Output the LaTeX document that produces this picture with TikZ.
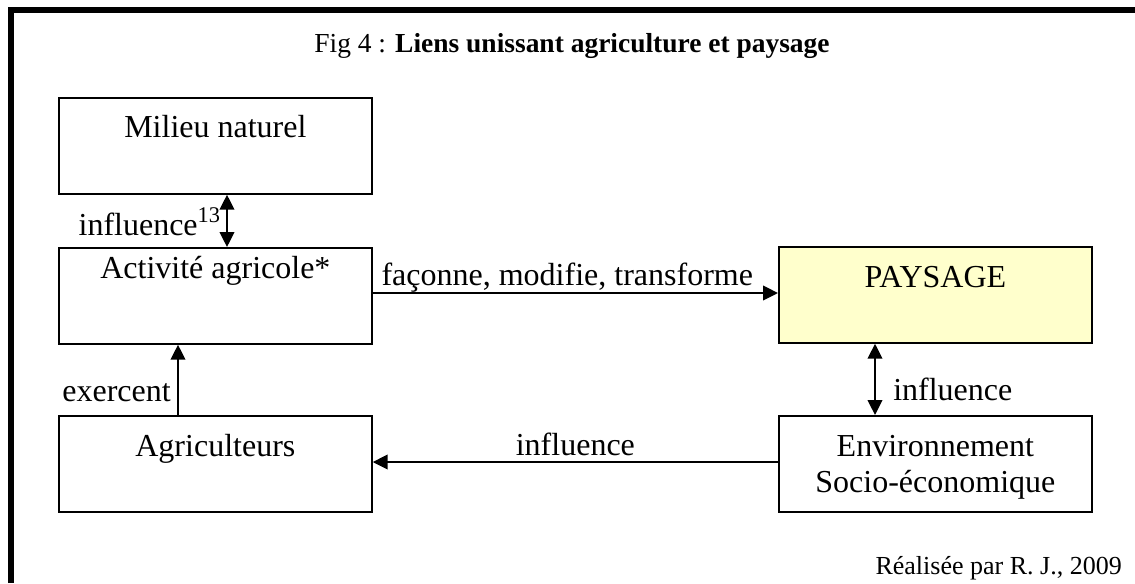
\documentclass[tikz,border=0pt]{standalone}
\usepackage{fontspec}
\setmainfont{Liberation Serif}
\usetikzlibrary{arrows.meta}
\definecolor{jaunepaysage}{HTML}{FFFFCC}
\newcommand{\policegrande}{\fontsize{24}{27.6}\selectfont}
\newcommand{\policetitre}{\fontsize{20.6}{24}\selectfont}
\newcommand{\policepetite}{\fontsize{19.5}{22}\selectfont}
\tikzset{
  boite/.style={draw, line width=1.3pt, anchor=north west, minimum width=234.75pt,
    minimum height=72pt, inner sep=0pt, align=center},
  fleche/.style={line width=1.2pt, -{Triangle[length=11.25pt,width=11pt]}},
  flechedouble/.style={line width=1.2pt, {Triangle[length=11.25pt,width=11pt]}-{Triangle[length=11.25pt,width=11pt]}},
  cadre/.style={line width=4.5pt}
}

\begin{document}
\begin{tikzpicture}[x=0.75pt, y=-0.75pt, every node/.style={font=\policegrande}]
\useasboundingbox (0,0) rectangle (1135,583);
\draw[cadre] (10.5,583) |- (1135,10);

\node[anchor=base, inner sep=0pt, font=\policetitre] (titre) at (572,52) {Fig 4 : \textbf{Liens unissant agriculture et paysage}};

\node[boite, text height=30pt, text depth=42pt] (milieu) at (58,97) {Milieu naturel};
\node[boite, text height=23.25pt, text depth=48.75pt] (activite) at (58,247) {Activité agricole*};
\node[boite, text height=30.75pt, text depth=41.25pt] (agriculteurs) at (58,415) {Agriculteurs};
\node[boite, fill=jaunepaysage, text height=30.75pt, text depth=41.25pt] (paysage) at (778,246) {PAYSAGE};
\node[boite, text height=57.75pt, text depth=14.25pt] (environnement) at (778,415) {Environnement\\Socio-économique};

\draw[flechedouble] (milieu.south -| 227,0) -- (activite.north -| 227,0);
\node[anchor=base east, inner sep=0pt] (influencemilieu) at (221,235) {influence\textsuperscript{13}};

\draw[fleche] (agriculteurs.north -| 178,0) -- (activite.south -| 178,0);
\node[anchor=base east, inner sep=0pt] (exercent) at (171,401) {exercent};

\draw[fleche] (activite.east |- 0,293) -- node[pos=0.48, above, inner sep=0pt] (faconne) {façonne, modifie, transforme} (paysage.west |- 0,293);

\draw[flechedouble] (paysage.south -| 875,0) -- (environnement.north -| 875,0);
\node[anchor=base west, inner sep=0pt] (influencepaysage) at (893,400) {influence};

\draw[fleche] (environnement.west |- 0,462) -- node[midway, above, inner sep=4pt] (influenceagri) {influence} (agriculteurs.east |- 0,462);

\node[anchor=base east, inner sep=0pt, font=\policepetite] (auteur) at (1122,574) {Réalisée par R. J., 2009};
\end{tikzpicture}
\end{document}
